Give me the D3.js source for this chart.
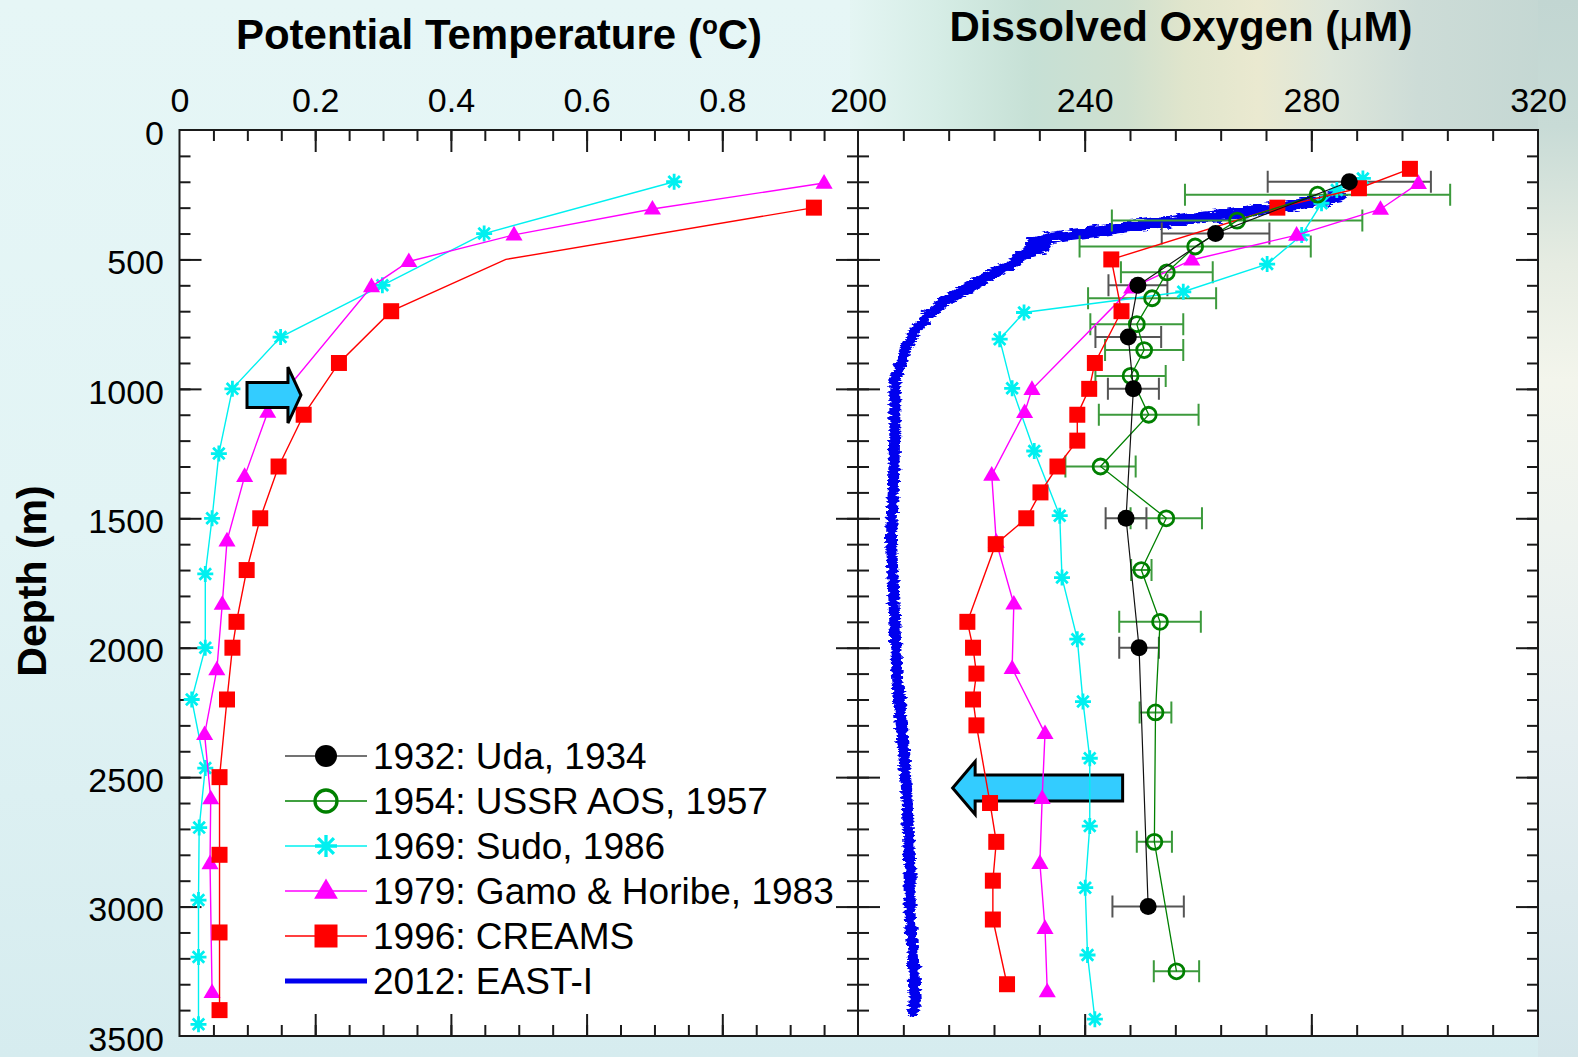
<!DOCTYPE html>
<html>
<head>
<meta charset="utf-8">
<script src="https://cdn.jsdelivr.net/npm/d3@7"></script>
<style>
  html, body { margin: 0; padding: 0; }
  body { width: 1578px; height: 1057px; overflow: hidden; font-family: "Liberation Sans", Arial, sans-serif; }
</style>
</head>
<body>
<div class="chart"></div>
<script>
// ---- tick labels ----
const tempTicks = [0, 0.2, 0.4, 0.6, 0.8];
const oxyTicks = [200, 240, 280, 320];
const depthTicks = [0, 500, 1000, 1500, 2000, 2500, 3000, 3500];

// ---- potential temperature (degC) vs depth (m) ----
const sudoTempDepth = [200, 400, 600, 800, 1000, 1250, 1500, 1715, 2000, 2200, 2465, 2695, 2975, 3195, 3455];
const sudoTemp = [0.729, 0.449, 0.299, 0.149, 0.078, 0.058, 0.048, 0.038, 0.038, 0.018, 0.038, 0.029, 0.028, 0.028, 0.028];
const gamoTempDepth = [205, 305, 405, 508, 605, 1090, 1338, 1587, 1832, 2085, 2335, 2583, 2834, 3332];
const gamoTemp = [0.950, 0.697, 0.493, 0.338, 0.283, 0.130, 0.096, 0.070, 0.063, 0.055, 0.037, 0.046, 0.045, 0.048];
const creamsTempDepth = [300, 500, 700, 900, 1100, 1300, 1500, 1700, 1900, 2000, 2200, 2500, 2800, 3100, 3400];
const creamsTemp = [0.935, 0.481, 0.312, 0.235, 0.183, 0.146, 0.119, 0.099, 0.084, 0.078, 0.070, 0.059, 0.059, 0.059, 0.059];
const creamsTempNoMark = [500];

// ---- dissolved oxygen (uM) vs depth (m) ----
const udaDepth = [200, 400, 600, 800, 1000, 1500, 2000, 3000];
const udaOxy = [286.7, 263.1, 249.4, 247.7, 248.6, 247.3, 249.6, 251.2];
const udaErr = [14.4, 9.5, 5.2, 5.8, 4.5, 3.6, 3.5, 6.3];

const ussrDepth = [250, 350, 450, 550, 650, 750, 850, 950, 1100, 1300, 1500, 1700, 1900, 2250, 2750, 3250];
const ussrOxy = [281.1, 266.9, 259.5, 254.5, 251.9, 249.2, 250.5, 248.1, 251.3, 242.8, 254.4, 250.0, 253.3, 252.5, 252.3, 256.2];
const ussrErr = [23.4, 22.1, 20.4, 8.1, 11.3, 8.2, 6.9, 6.2, 8.8, 6.2, 6.3, 1.8, 7.2, 2.8, 3.1, 4.0];

const sudoOxyDepth = [187, 232, 283, 406, 518, 625, 705, 808, 998, 1240, 1490, 1729, 1967, 2208, 2427, 2689, 2927, 3187, 3435];
const sudoOxy = [289.1, 284.5, 281.8, 278.3, 272.2, 257.4, 229.3, 225.0, 227.2, 231.1, 235.6, 236.0, 238.7, 239.7, 240.9, 240.9, 240.1, 240.5, 241.8];

const gamoOxyDepth = [206, 306, 406, 502, 610, 1002, 1091, 1333, 1592, 1831, 2080, 2331, 2582, 2833, 3084, 3329];
const gamoOxy = [298.9, 292.2, 277.4, 258.9, 248.3, 230.7, 229.4, 223.6, 224.4, 227.5, 227.2, 233.0, 232.5, 232.1, 233.0, 233.4];

const creamsOxyDepth = [150, 225, 300, 500, 700, 900, 1000, 1100, 1200, 1300, 1400, 1500, 1600, 1900, 2000, 2100, 2200, 2300, 2600, 2750, 2900, 3050, 3300];
const creamsOxy = [297.4, 288.4, 274.0, 244.7, 246.5, 241.8, 240.8, 238.7, 238.7, 235.2, 232.2, 229.7, 224.3, 219.3, 220.3, 220.9, 220.3, 220.9, 223.3, 224.4, 223.8, 223.8, 226.3];

const eastDepth = [258, 290, 309, 328, 341, 360, 374, 393, 406, 417, 440, 452, 470, 490, 509, 554, 605, 657, 721, 785, 850, 914, 966, 1000, 1170, 1414, 1576, 1738, 1903, 2065, 2228, 2390, 2553, 2716, 2878, 3040, 3203, 3366, 3406];
const eastOxy = [285.1, 276.8, 270.9, 265.0, 259.2, 253.3, 247.4, 241.5, 236.8, 233.9, 230.6, 233.0, 230.0, 228.3, 228.0, 223.9, 219.8, 215.7, 212.1, 209.8, 208.3, 207.4, 206.5, 206.5, 206.5, 206.2, 205.9, 206.2, 206.5, 206.8, 207.4, 208.0, 208.6, 208.9, 209.2, 209.2, 209.8, 210.1, 209.8];

// ---- annotation arrows (tail, tip, depth) ----
const tempArrow = [0.0995, 0.179, 1024];
const oxyArrow = [246.7, 216.7, 2542];

const legendLabels = ['1932: Uda, 1934', '1954: USSR AOS, 1957', '1969: Sudo, 1986', '1979: Gamo & Horibe, 1983', '1996: CREAMS', '2012: EAST-I'];

function displayChart() {
  const w = 1578;
  const h = 1057;
  const frame = { top: 130, bottom: 1036, left: 179.5, mid: 858, right: 1538 };
  const font = '"Liberation Sans", Arial, sans-serif';

  const xT = d3.scaleLinear().domain([0, 1]).range([frame.left, frame.mid]);
  const xO = d3.scaleLinear().domain([200, 320]).range([frame.mid, frame.right]);
  const y = d3.scaleLinear().domain([0, 3500]).range([frame.top, frame.bottom]);

  const svg = d3.select('.chart')
    .append('svg')
    .attr('width', w)
    .attr('height', h)
    .attr('viewBox', `0 0 ${w} ${h}`);

  const defs = svg.append('defs');

  // background
  const bgV = defs.append('linearGradient').attr('id', 'bgV').attr('x1', 0).attr('y1', 0).attr('x2', 0).attr('y2', 1);
  [[0, '#e6f6f6'], [0.5, '#e2f4f5'], [1, '#d6ecef']].forEach(s => bgV.append('stop').attr('offset', s[0]).attr('stop-color', s[1]));
  const bgTop = defs.append('linearGradient').attr('id', 'bgTop').attr('x1', 0).attr('y1', 0).attr('x2', 1).attr('y2', 0);
  [[0, '#e4f5f3'], [0.12, '#d6ede6'], [0.25, '#c6e0d5'], [0.38, '#cfe0cf'], [0.46, '#e0e5cc'], [0.56, '#eae9d0'],
    [0.66, '#dde6da'], [0.78, '#cddcd7'], [1, '#c2d6d2']].forEach(s => bgTop.append('stop').attr('offset', s[0]).attr('stop-color', s[1]));
  const bgRight = defs.append('linearGradient').attr('id', 'bgRight').attr('x1', 0).attr('y1', 0).attr('x2', 0).attr('y2', 1);
  [[0, '#c2d6d2'], [0.12, '#c8dbd6'], [0.25, '#e6ece2'], [0.36, '#f3f5ec'], [0.5, '#eef3ef'], [0.7, '#e4eef0'], [1, '#d4e6ea']]
    .forEach(s => bgRight.append('stop').attr('offset', s[0]).attr('stop-color', s[1]));

  svg.append('rect').attr('width', w).attr('height', h).attr('fill', 'url(#bgV)');
  svg.append('rect').attr('x', 850).attr('width', w - 850).attr('height', frame.top).attr('fill', 'url(#bgTop)');
  svg.append('rect').attr('x', frame.right).attr('width', w - frame.right).attr('height', h).attr('fill', 'url(#bgRight)');

  // rough edge for the CTD profile
  const rough = defs.append('filter').attr('id', 'rough')
    .attr('filterUnits', 'userSpaceOnUse').attr('x', 850).attr('y', 150).attr('width', 560).attr('height', 900);
  rough.append('feTurbulence').attr('type', 'fractalNoise').attr('baseFrequency', '0.08 0.35').attr('numOctaves', 3).attr('seed', 4).attr('result', 'n');
  rough.append('feDisplacementMap').attr('in', 'SourceGraphic').attr('in2', 'n').attr('scale', 9)
    .attr('xChannelSelector', 'R').attr('yChannelSelector', 'G').attr('result', 'd');
  rough.append('feGaussianBlur').attr('in', 'd').attr('stdDeviation', 0.7);

  // plot areas
  svg.append('rect').attr('x', frame.left).attr('y', frame.top)
    .attr('width', frame.right - frame.left).attr('height', frame.bottom - frame.top).attr('fill', '#fff');

  // tick marks
  function ticks(axisFn, scale, values, size, transform) {
    svg.append('g')
      .attr('transform', transform)
      .call(axisFn(scale).tickValues(values).tickSize(size).tickFormat(''))
      .call(g => g.select('.domain').remove())
      .call(g => g.selectAll('line').attr('stroke', '#1a1a1a').attr('stroke-width', 2));
  }
  const tempMinor = d3.range(0.05, 1, 0.05);
  const tempMajor = tempTicks.slice(1);
  const oxyMinor = d3.range(208, 320, 8);
  const oxyMajor = oxyTicks.slice(1, -1);
  const depthMinor = d3.range(100, 3500, 100);
  const depthMajor = depthTicks.slice(1, -1);

  [[d3.axisBottom, frame.top], [d3.axisTop, frame.bottom]].forEach(([fn, yy]) => {
    ticks(fn, xT, tempMinor, 11, `translate(0,${yy})`);
    ticks(fn, xT, tempMajor, 22, `translate(0,${yy})`);
    ticks(fn, xO, oxyMinor, 11, `translate(0,${yy})`);
    ticks(fn, xO, oxyMajor, 22, `translate(0,${yy})`);
  });
  [[d3.axisRight, frame.left], [d3.axisLeft, frame.mid], [d3.axisRight, frame.mid], [d3.axisLeft, frame.right]].forEach(([fn, xx]) => {
    ticks(fn, y, depthMinor, 11, `translate(${xx},0)`);
    ticks(fn, y, depthMajor, 22, `translate(${xx},0)`);
  });

  // frames
  [[frame.left, frame.mid], [frame.mid, frame.right]].forEach(([a, b]) => {
    svg.append('rect').attr('x', a).attr('y', frame.top).attr('width', b - a).attr('height', frame.bottom - frame.top)
      .attr('fill', 'none').attr('stroke', '#1a1a1a').attr('stroke-width', 2);
  });

  // tick labels
  function labels(axis, transform, dy) {
    svg.append('g')
      .attr('transform', transform)
      .call(axis.tickSize(0).tickPadding(0))
      .call(g => g.select('.domain').remove())
      .call(g => g.selectAll('text').attr('font-family', font).attr('font-size', 34).attr('fill', '#000').attr('dy', dy));
  }
  labels(d3.axisTop(xT).tickValues(tempTicks).tickFormat(d3.format('~g')), 'translate(0,111.5)', '0em');
  labels(d3.axisTop(xO).tickValues(oxyTicks).tickFormat(d3.format('d')), 'translate(0,111.5)', '0em');
  labels(d3.axisLeft(y).tickValues(depthTicks).tickFormat(d3.format('d')), 'translate(164,0)', '0.42em');

  // titles
  const t1 = svg.append('text').attr('x', 499).attr('y', 48.5).attr('text-anchor', 'middle')
    .attr('font-family', font).attr('font-size', 42).attr('font-weight', 'bold');
  t1.append('tspan').text('Potential Temperature (');
  t1.append('tspan').attr('dy', -15).attr('font-size', 26).text('o');
  t1.append('tspan').attr('dy', 15).text('C)');

  const t2 = svg.append('text').attr('x', 1181).attr('y', 40.5).attr('text-anchor', 'middle')
    .attr('font-family', font).attr('font-size', 42).attr('font-weight', 'bold');
  t2.append('tspan').text('Dissolved Oxygen (');
  t2.append('tspan').attr('font-weight', 'normal').text('\u03bc');
  t2.append('tspan').text('M)');

  svg.append('text').attr('transform', 'translate(46,581) rotate(-90)').attr('text-anchor', 'middle')
    .attr('font-family', font).attr('font-size', 41).attr('font-weight', 'bold').text('Depth (m)');

  // marker shapes
  const shapes = {
    dot: s => `M${-s},0a${s},${s} 0 1,0 ${2 * s},0a${s},${s} 0 1,0 ${-2 * s},0Z`,
    ring: s => `M${-s},0a${s},${s} 0 1,0 ${2 * s},0a${s},${s} 0 1,0 ${-2 * s},0Z`,
    star: s => `M0,${-s}V${s}M${-s},0H${s}M${-s * 0.72},${-s * 0.72}L${s * 0.72},${s * 0.72}M${-s * 0.72},${s * 0.72}L${s * 0.72},${-s * 0.72}`,
    tri: s => `M0,${-s}L${s * 0.95},${s * 0.62}L${-s * 0.95},${s * 0.62}Z`,
    square: s => `M${-s},${-s}H${s}V${s}H${-s}Z`
  };
  const styles = {
    uda: { color: '#000', line: '#111', lw: 1.2, shape: 'dot', size: 8.5, fill: '#000', stroke: 'none', sw: 0 },
    ussr: { color: '#008000', line: '#008000', lw: 1.3, shape: 'ring', size: 7.5, fill: 'none', stroke: '#008000', sw: 2.8 },
    sudo: { color: '#00f0f0', line: '#00f0f0', lw: 1.4, shape: 'star', size: 8, fill: 'none', stroke: '#00f0f0', sw: 2.8 },
    gamo: { color: '#ff00ff', line: '#ff00ff', lw: 1.4, shape: 'tri', size: 9, fill: '#ff00ff', stroke: 'none', sw: 0 },
    creams: { color: '#ff0000', line: '#ff0000', lw: 1.4, shape: 'square', size: 8, fill: '#ff0000', stroke: 'none', sw: 0 }
  };

  function series(xs, depths, vals, st, noMark) {
    const pts = d3.zip(depths, vals);
    const g = svg.append('g');
    g.append('path')
      .datum(pts)
      .attr('d', d3.line().x(d => xs(d[1])).y(d => y(d[0])))
      .attr('fill', 'none')
      .attr('stroke', st.line)
      .attr('stroke-width', st.lw);
    g.selectAll('path.mark')
      .data(pts.filter(d => !(noMark || []).includes(d[0])))
      .join('path')
      .attr('class', 'mark')
      .attr('transform', d => `translate(${xs(d[1])},${y(d[0])})`)
      .attr('d', shapes[st.shape](st.size))
      .attr('fill', st.fill)
      .attr('stroke', st.stroke)
      .attr('stroke-width', st.sw);
  }

  function errorBars(depths, vals, errs, color) {
    svg.append('g')
      .attr('stroke', color)
      .attr('stroke-width', 2)
      .attr('fill', 'none')
      .selectAll('path')
      .data(d3.zip(depths, vals, errs))
      .join('path')
      .attr('d', d => {
        const yy = y(d[0]);
        const x1 = xO(d[1] - d[2]);
        const x2 = xO(d[1] + d[2]);
        return `M${x1},${yy}H${x2}M${x1},${yy - 11}V${yy + 11}M${x2},${yy - 11}V${yy + 11}`;
      });
  }

  function arrow(xs, spec, body, head, headLen) {
    const [tail, tip, depth] = spec;
    const x0 = xs(tail);
    const x1 = xs(tip);
    const yy = y(depth);
    const dir = Math.sign(x1 - x0);
    const xb = x1 - dir * headLen;
    svg.append('path')
      .attr('d', `M${x0},${yy - body}L${xb},${yy - body}L${xb},${yy - head}L${x1},${yy}L${xb},${yy + head}L${xb},${yy + body}L${x0},${yy + body}Z`)
      .attr('fill', '#33ccff')
      .attr('stroke', '#000')
      .attr('stroke-width', 3)
      .attr('stroke-linejoin', 'miter');
  }

  // left panel
  series(xT, sudoTempDepth, sudoTemp, styles.sudo);
  series(xT, gamoTempDepth, gamoTemp, styles.gamo);
  series(xT, creamsTempDepth, creamsTemp, styles.creams, creamsTempNoMark);
  arrow(xT, tempArrow, 12.5, 28, 13);

  // right panel
  svg.append('path')
    .datum(d3.zip(eastDepth, eastOxy))
    .attr('d', d3.line().x(d => xO(d[1])).y(d => y(d[0])))
    .attr('fill', 'none')
    .attr('stroke', '#0000ee')
    .attr('stroke-width', 11)
    .attr('stroke-linejoin', 'round')
    .attr('stroke-linecap', 'round')
    .attr('filter', 'url(#rough)');

  arrow(xO, oxyArrow, 13, 26.5, 22.5);
  errorBars(ussrDepth, ussrOxy, ussrErr, '#3c9a3c');
  errorBars(udaDepth, udaOxy, udaErr, '#555');
  series(xO, sudoOxyDepth, sudoOxy, styles.sudo);
  series(xO, gamoOxyDepth, gamoOxy, styles.gamo);
  series(xO, creamsOxyDepth, creamsOxy, styles.creams);
  series(xO, ussrDepth, ussrOxy, styles.ussr);
  series(xO, udaDepth, udaOxy, styles.uda);

  // legend
  const legendKeys = ['uda', 'ussr', 'sudo', 'gamo', 'creams', null];
  const legend = svg.append('g').attr('class', 'legend');
  legendLabels.forEach((label, i) => {
    const ly = 756 + i * 45;
    const key = legendKeys[i];
    const st = key ? styles[key] : null;
    legend.append('line')
      .attr('x1', 285).attr('x2', 367).attr('y1', ly).attr('y2', ly)
      .attr('stroke', st ? (key === 'uda' ? '#444' : st.line) : '#0000ee')
      .attr('stroke-width', st ? 1.6 : 5);
    if (st) {
      const big = { dot: 11, ring: 11, star: 11, tri: 12.5, square: 11.5 }[st.shape];
      legend.append('path')
        .attr('transform', `translate(326,${ly})`)
        .attr('d', shapes[st.shape](big))
        .attr('fill', st.fill)
        .attr('stroke', st.stroke)
        .attr('stroke-width', st.sw ? st.sw + 0.5 : 0);
    }
    legend.append('text')
      .attr('x', 373).attr('y', ly + 13)
      .attr('font-family', font).attr('font-size', 37)
      .text(label);
  });
}

displayChart();
</script>
</body>
</html>
